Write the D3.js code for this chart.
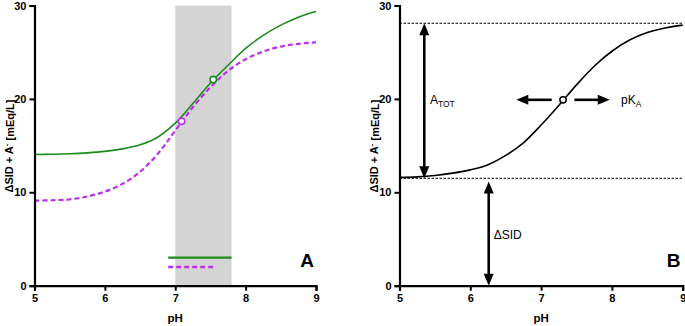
<!DOCTYPE html>
<html>
<head>
<meta charset="utf-8">
<script src="https://cdn.jsdelivr.net/npm/d3@7"></script>
<style>
  html, body { margin: 0; padding: 0; background: #fff; }
  svg { display: block; font-family: "Liberation Sans", Arial, sans-serif; }
</style>
</head>
<body>
<svg id="chart" width="685" height="326"></svg>
<script>
// ---------- DATA ----------
const pHTicks = [5, 6, 7, 8, 9];
const yTicks = [0, 10, 20, 30];
const pH = [5, 5.25, 5.5, 5.75, 6, 6.25, 6.5, 6.75, 7, 7.25, 7.5, 7.75, 8, 8.25, 8.5, 8.75, 9];
const greenValues  = [14.04, 14.07, 14.12, 14.22, 14.38, 14.65, 15.08, 15.9, 17.4, 19.5, 21.7, 23.6, 25.4, 26.8, 27.9, 28.75, 29.35];
const purpleValues = [9.1, 9.15, 9.25, 9.55, 10.07, 10.9, 12.2, 14.1, 16.6, 19.1, 21.25, 23.0, 24.25, 25.07, 25.6, 25.9, 26.05];
const modelValues  = [11.6, 11.65, 11.8, 12.05, 12.4, 12.95, 13.95, 15.3, 17.2, 19.3, 21.5, 23.5, 25.1, 26.3, 27.1, 27.6, 27.9];
const greenPK = {pH: 7.54, value: 22.07};
const purplePK = {pH: 7.09, value: 17.6};
const modelPK = {pH: 7.31, value: 19.9};
const normalBand = [7.0, 7.8];          // shaded pH range
const greenRange = [6.9, 7.8, 3.0];     // pH from, pH to, level
const purpleRange = [6.9, 7.54, 2.0];
const aTotLevels = [28.1, 11.5];        // upper / lower dashed levels
const aTotArrowPH = 5.35;
const sidArrowPH = 6.26;
const sidArrowTop = 11.15;
const pkArrowLeft = [7.15, 6.65];
const pkArrowRight = [7.47, 7.97];

// ---------- LAYOUT ----------
const svg = d3.select("#chart");
const green = "#1e8a1e", purple = "#bb2ff0";
const yRange = [285.7, 5.5];
const panels = [
  {x: d3.scaleLinear().domain([5, 9]).range([34.5, 316]), ylabX: 9, letter: "A"},
  {x: d3.scaleLinear().domain([5, 9]).range([399.5, 682.7]), ylabX: 374, letter: "B"}
];
const y = d3.scaleLinear().domain([0, 30]).range(yRange);

function drawAxes(p) {
  const gx = svg.append("g").attr("transform", `translate(0,${yRange[0]})`)
    .call(d3.axisBottom(p.x).tickValues(pHTicks).tickFormat(d3.format("d")).tickSize(5).tickPadding(4));
  const gy = svg.append("g").attr("transform", `translate(${p.x.range()[0]},0)`)
    .call(d3.axisLeft(y).tickValues(yTicks).tickFormat(d3.format("d")).tickSize(5).tickPadding(3));
  [gx, gy].forEach(g => {
    g.select(".domain").attr("stroke", "#000").attr("stroke-width", 2.2);
    g.selectAll(".tick line").attr("stroke", "#000").attr("stroke-width", 2);
    g.selectAll(".tick text").attr("fill", "#000").attr("font-weight", "bold")
      .attr("font-size", "11px").attr("font-family", "Liberation Sans, Arial, sans-serif");
  });
  const cx = (p.x.range()[0] + p.x.range()[1]) / 2;
  svg.append("text").attr("x", cx).attr("y", 322).attr("text-anchor", "middle")
    .attr("font-weight", "bold").attr("font-size", "11.5px").text("pH");
  const yl = svg.append("text").attr("transform", `translate(${p.ylabX},146) rotate(-90)`)
    .attr("text-anchor", "middle").attr("font-weight", "bold").attr("font-size", "11px")
    .attr("dy", "0.35em");
  yl.append("tspan").text("\u0394SID + A");
  yl.append("tspan").attr("dy", "-0.45em").attr("font-size", "8px").text("-");
  yl.append("tspan").attr("dy", "0.45em").text(" [mEq/L]");
  svg.append("text").attr("x", p.x.range()[1] - 9).attr("y", 267).attr("text-anchor", "middle")
    .attr("font-weight", "bold").attr("font-size", "19px").text(p.letter);
}

// ---------- PANEL A ----------
const pA = panels[0];
svg.append("rect")
  .attr("x", pA.x(normalBand[0])).attr("y", y(30))
  .attr("width", pA.x(normalBand[1]) - pA.x(normalBand[0]))
  .attr("height", y(0) - y(30))
  .attr("fill", "#d4d4d4");

const lineA = d3.line().x((d, i) => pA.x(pH[i])).y(d => y(d)).curve(d3.curveCatmullRom.alpha(0.5));
svg.append("path").attr("d", lineA(purpleValues)).attr("fill", "none")
  .attr("stroke", purple).attr("stroke-width", 2.2).attr("stroke-dasharray", "5,3");
svg.append("path").attr("d", lineA(greenValues)).attr("fill", "none")
  .attr("stroke", green).attr("stroke-width", 1.6);

svg.append("line").attr("x1", pA.x(greenRange[0])).attr("x2", pA.x(greenRange[1]))
  .attr("y1", y(greenRange[2])).attr("y2", y(greenRange[2]))
  .attr("stroke", green).attr("stroke-width", 2.2);
svg.append("line").attr("x1", pA.x(purpleRange[0])).attr("x2", pA.x(purpleRange[1]))
  .attr("y1", y(purpleRange[2])).attr("y2", y(purpleRange[2]))
  .attr("stroke", purple).attr("stroke-width", 2.5).attr("stroke-dasharray", "5,3");

svg.append("circle").attr("cx", pA.x(greenPK.pH)).attr("cy", y(greenPK.value)).attr("r", 3.2)
  .attr("fill", "#fff").attr("stroke", green).attr("stroke-width", 1.6);
svg.append("circle").attr("cx", pA.x(purplePK.pH)).attr("cy", y(purplePK.value)).attr("r", 3.2)
  .attr("fill", "#fff").attr("stroke", purple).attr("stroke-width", 1.6);

drawAxes(pA);

// ---------- PANEL B ----------
const pB = panels[1];
aTotLevels.forEach(v => {
  svg.append("line").attr("x1", pB.x(5)).attr("x2", pB.x(9))
    .attr("y1", y(v)).attr("y2", y(v))
    .attr("stroke", "#000").attr("stroke-width", 1).attr("stroke-dasharray", "2.5,1.5");
});
const lineB = d3.line().x((d, i) => pB.x(pH[i])).y(d => y(d)).curve(d3.curveCatmullRom.alpha(0.5));
svg.append("path").attr("d", lineB(modelValues)).attr("fill", "none")
  .attr("stroke", "#000").attr("stroke-width", 1.6);

function arrow(x1, y1, x2, y2, both) {
  const len = 12, half = 5;
  const dx = x2 - x1, dy = y2 - y1, L = Math.hypot(dx, dy);
  const ux = dx / L, uy = dy / L, nx = -uy, ny = ux;
  const sx = both ? x1 + ux * (len - 1) : x1, sy = both ? y1 + uy * (len - 1) : y1;
  svg.append("line").attr("x1", sx).attr("y1", sy)
    .attr("x2", x2 - ux * (len - 1)).attr("y2", y2 - uy * (len - 1))
    .attr("stroke", "#000").attr("stroke-width", 2.6);
  const head = (tx, ty, ux, uy) => {
    const bx = tx - ux * len, by = ty - uy * len;
    svg.append("path").attr("d",
      `M${tx},${ty}L${bx + nx * half},${by + ny * half}L${bx - nx * half},${by - ny * half}Z`)
      .attr("fill", "#000");
  };
  head(x2, y2, ux, uy);
  if (both) head(x1, y1, -ux, -uy);
}
arrow(pB.x(aTotArrowPH), y(aTotLevels[0]), pB.x(aTotArrowPH), y(aTotLevels[1]), true);
arrow(pB.x(sidArrowPH), y(0), pB.x(sidArrowPH), y(sidArrowTop), true);
arrow(pB.x(pkArrowLeft[0]), y(modelPK.value), pB.x(pkArrowLeft[1]), y(modelPK.value), false);
arrow(pB.x(pkArrowRight[0]), y(modelPK.value), pB.x(pkArrowRight[1]), y(modelPK.value), false);

svg.append("circle").attr("cx", pB.x(modelPK.pH)).attr("cy", y(modelPK.value)).attr("r", 3.2)
  .attr("fill", "#fff").attr("stroke", "#000").attr("stroke-width", 1.5);

const at = svg.append("text").attr("x", pB.x(5.43)).attr("y", y(19.9)).attr("dy", "0.35em")
  .attr("font-size", "12px");
at.append("tspan").text("A");
at.append("tspan").attr("dy", "0.3em").attr("font-size", "8.5px").text("TOT");
svg.append("text").attr("x", pB.x(6.33)).attr("y", y(5.4)).attr("dy", "0.35em")
  .attr("font-size", "12px").text("\u0394SID");
const pk = svg.append("text").attr("x", pB.x(8.13)).attr("y", y(19.9)).attr("dy", "0.35em")
  .attr("font-size", "12px");
pk.append("tspan").text("pK");
pk.append("tspan").attr("dy", "0.3em").attr("font-size", "8.5px").text("A");

drawAxes(pB);
</script>
</body>
</html>
